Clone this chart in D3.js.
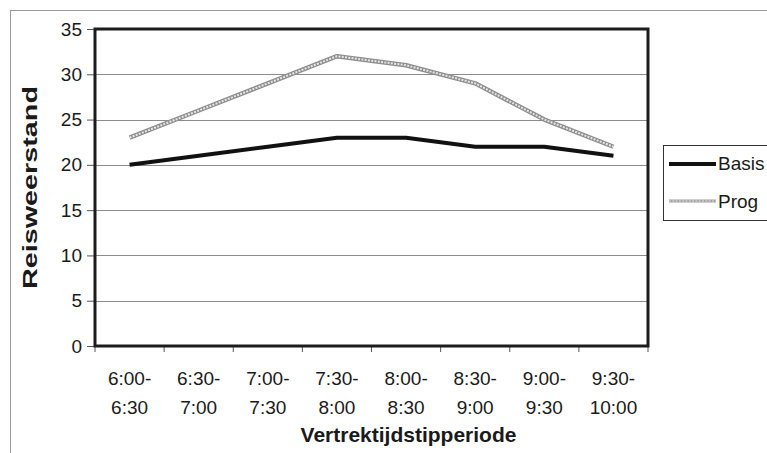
<!DOCTYPE html>
<html>
<head>
<meta charset="utf-8">
<script src="https://cdn.jsdelivr.net/npm/d3@7"></script>
<style>
  html, body { margin: 0; padding: 0; background: #fff; }
  svg { display: block; font-family: "Liberation Sans", Arial, Helvetica, sans-serif; }
</style>
</head>
<body>
<svg id="chart" width="767" height="453"></svg>
<script>
// Reisweerstand per vertrektijdstipperiode
const periods = ["6:00-6:30", "6:30-7:00", "7:00-7:30", "7:30-8:00",
                 "8:00-8:30", "8:30-9:00", "9:00-9:30", "9:30-10:00"];
const basis = [20, 21, 22, 23, 23, 22, 22, 21];
const prog  = [23, 26, 29, 32, 31, 29, 25, 22];
const yTicks = [0, 5, 10, 15, 20, 25, 30, 35];
const seriesNames = ["Basis", "Prog"];

const svg = d3.select("#chart");
const plot = { left: 95, top: 29, right: 648, bottom: 346 };

const x = d3.scaleBand().domain(periods).range([plot.left, plot.right]).padding(0);
const y = d3.scaleLinear().domain([0, 35]).range([plot.bottom, plot.top]);
const cx = d => x(d) + x.bandwidth() / 2;

// outer chart frame
svg.append("rect")
  .attr("x", 10.5).attr("y", 10.5).attr("width", 800).attr("height", 500)
  .attr("fill", "#fff").attr("stroke", "#9a9a9a").attr("stroke-width", 1);

// gridlines
svg.append("g").selectAll("line")
  .data(yTicks.filter(v => v > 0 && v < 35))
  .join("line")
  .attr("x1", plot.left).attr("x2", plot.right)
  .attr("y1", d => Math.round(y(d)) + 0.5).attr("y2", d => Math.round(y(d)) + 0.5)
  .attr("stroke", "#8c8c8c").attr("stroke-width", 1);

// y axis
const yAxis = svg.append("g")
  .attr("transform", `translate(${plot.left},0)`)
  .call(d3.axisLeft(y).tickValues(yTicks).tickSize(8).tickPadding(5));
yAxis.select(".domain").remove();
yAxis.selectAll(".tick line").attr("stroke", "#555");
yAxis.selectAll(".tick text")
  .attr("font-size", 19).attr("fill", "#1a1a1a")
  .attr("font-family", "'Liberation Sans', Arial, sans-serif");

// x axis labels (two lines per period)
const xAxis = svg.append("g")
  .attr("transform", `translate(0,${plot.bottom})`)
  .call(d3.axisBottom(x).tickSize(0).tickFormat(""));
xAxis.select(".domain").remove();
xAxis.selectAll(".tick").each(function(d) {
  const parts = d.split("-");
  const t = d3.select(this).append("text")
    .attr("text-anchor", "middle")
    .attr("font-size", 19).attr("fill", "#1a1a1a")
    .attr("font-family", "'Liberation Sans', Arial, sans-serif");
  t.append("tspan").attr("x", 0).attr("y", 38.5).text(parts[0] + "-");
  t.append("tspan").attr("x", 0).attr("y", 67.5).text(parts[1]);
});

// x tick marks at period boundaries
const bounds = periods.map(p => x(p)).concat([x.range()[1]]);
svg.append("g").selectAll("line")
  .data(bounds)
  .join("line")
  .attr("x1", d => d).attr("x2", d => d)
  .attr("y1", plot.bottom).attr("y2", plot.bottom + 6)
  .attr("stroke", "#555").attr("stroke-width", 1);

// plot area border
svg.append("rect")
  .attr("x", plot.left).attr("y", plot.top)
  .attr("width", plot.right - plot.left).attr("height", plot.bottom - plot.top)
  .attr("fill", "none").attr("stroke", "#1c1c1c").attr("stroke-width", 3);

// series lines
const line = d3.line().x((d, i) => cx(periods[i])).y(d => y(d));

// Prog: light chain-textured line
function chainStroke(sel) {
  sel.append("path").attr("fill", "none")
    .attr("stroke", "#8e8e8e").attr("stroke-width", 4.5).attr("stroke-linejoin", "round");
  sel.append("path").attr("fill", "none")
    .attr("stroke", "#e6e6e6").attr("stroke-width", 2).attr("stroke-dasharray", "2,1.3")
    .attr("stroke-linejoin", "round");
}
const progG = svg.append("g");
chainStroke(progG);
progG.selectAll("path").attr("d", line(prog));

svg.append("path")
  .attr("d", line(basis))
  .attr("fill", "none").attr("stroke", "#111").attr("stroke-width", 4)
  .attr("stroke-linejoin", "round");

// axis titles
svg.append("text")
  .attr("x", (plot.left + plot.right) / 2 + 37).attr("y", 442)
  .attr("text-anchor", "middle")
  .attr("font-size", 21).attr("font-weight", "bold").attr("fill", "#1a1a1a")
  .text("Vertrektijdstipperiode");

svg.append("text")
  .attr("transform", `translate(36.5,${(plot.top + plot.bottom) / 2}) rotate(-90)`)
  .attr("text-anchor", "middle")
  .attr("font-size", 20).attr("font-weight", "bold").attr("fill", "#1a1a1a")
  .attr("textLength", 203).attr("lengthAdjust", "spacingAndGlyphs")
  .text("Reisweerstand");

// legend
const legend = svg.append("g");
legend.append("rect")
  .attr("x", 663.5).attr("y", 145.5).attr("width", 140).attr("height", 75)
  .attr("fill", "#fff").attr("stroke", "#333").attr("stroke-width", 1);

legend.append("line")
  .attr("x1", 669).attr("x2", 716).attr("y1", 164).attr("y2", 164)
  .attr("stroke", "#111").attr("stroke-width", 4);
legend.append("text")
  .attr("x", 718).attr("y", 169.5).attr("font-size", 19).attr("fill", "#1a1a1a")
  .text(seriesNames[0]);

const lg = legend.append("g");
chainStroke(lg);
lg.selectAll("path").attr("d", "M669,201L716,201");
lg.select("path").attr("stroke-width", 3).attr("stroke", "#a0a0a0");
lg.selectAll("path").filter((d, i) => i === 1).attr("stroke-width", 1.2);
legend.append("text")
  .attr("x", 718).attr("y", 207.5).attr("font-size", 19).attr("fill", "#1a1a1a")
  .text(seriesNames[1]);
</script>
</body>
</html>
